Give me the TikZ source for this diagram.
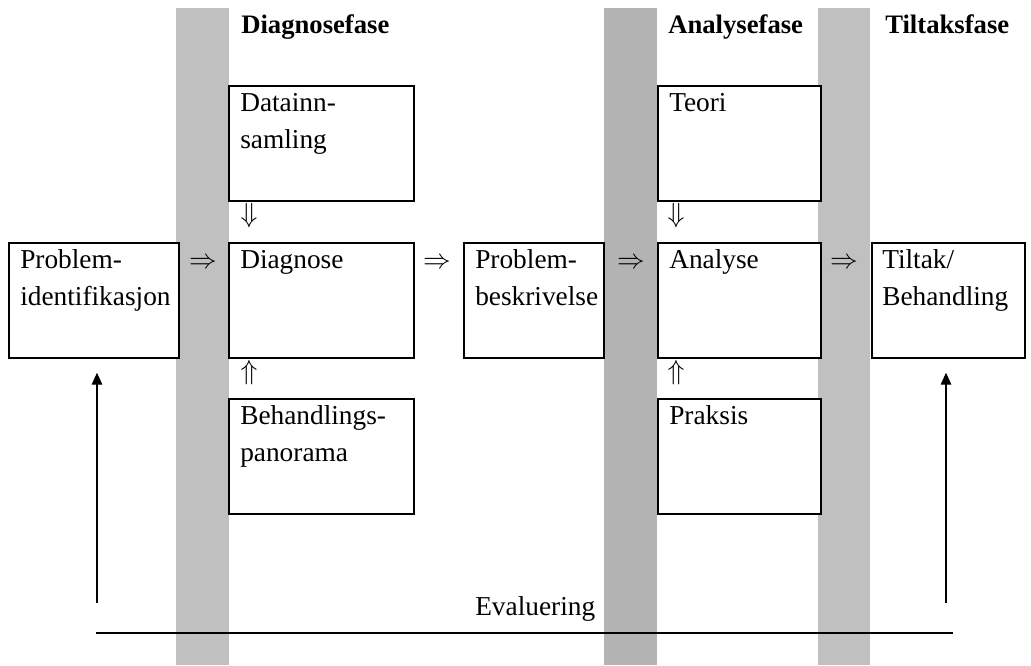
\documentclass[tikz,border=0pt]{standalone}
\usepackage{fontspec}
\setmainfont{Liberation Serif}
\usepackage{tikz}
\usetikzlibrary{arrows.meta}

\definecolor{fasegray}{RGB}{192,192,192}
\definecolor{fasedark}{RGB}{179,179,179}

\begin{document}
\begin{tikzpicture}[
  x=0.75pt, y=-0.75pt,
  bar/.style={fill=#1, draw=none},
  box/.style 2 args={rectangle, draw, line width=1.3pt, fill=white, anchor=north west,
                     inner sep=0pt, minimum width=#1*0.75pt, minimum height=#2*0.75pt},
  txt/.style={anchor=base west, inner sep=0pt, align=left,
              font=\fontsize{20.5}{27.6}\selectfont},
  head/.style={txt, font=\fontsize{20}{24}\selectfont\bfseries},
  sym/.style={inner sep=0pt, font=\fontsize{22}{26}\selectfont},
  evalarrow/.style={-{Triangle[width=8pt,length=9pt]}, line width=0.8pt}
]
  \useasboundingbox (0,0) rectangle (1031,665);

  % faser
  \fill[bar=fasegray] (176,8) rectangle (229,665);
  \fill[bar=fasedark] (604,8) rectangle (657,665);
  \fill[bar=fasegray] (818,8) rectangle (870,665);

  \node[head] (hdiag) at (241,33) {Diagnosefase};
  \node[head] (hana)  at (668,33) {Analysefase};
  \node[head] (htilt) at (885,33) {Tiltaksfase};

  % bokser
  \node[box={170}{115}] (pid)   at (8,242)   {};
  \node[box={185}{115}] (dat)   at (228,85)  {};
  \node[box={185}{115}] (diag)  at (228,242) {};
  \node[box={185}{115}] (beh)   at (228,398) {};
  \node[box={140}{115}] (pbes)  at (463,242) {};
  \node[box={163}{115}] (teori) at (657,85)  {};
  \node[box={163}{115}] (ana)   at (657,242) {};
  \node[box={163}{115}] (praks) at (657,398) {};
  \node[box={153}{115}] (tilt)  at (871,242) {};

  % base = siste linje
  \node[txt] (pidT)   at (20,305)  {Problem-\\identifikasjon};
  \node[txt] (datT)   at (240,148) {Datainn-\\samling};
  \node[txt] (diagT)  at (240,268) {Diagnose};
  \node[txt] (behT)   at (240,461) {Behandlings-\\panorama};
  \node[txt] (pbesT)  at (475,305) {Problem-\\beskrivelse};
  \node[txt] (teoriT) at (669,111) {Teori};
  \node[txt] (anaT)   at (669,268) {Analyse};
  \node[txt] (praksT) at (669,424) {Praksis};
  \node[txt] (tiltT)  at (882,305) {Tiltak/\\Behandling};

  % piler mellom boksene
  \node[sym] (r1) at (203,263) {$\Rightarrow$};
  \node[sym] (r2) at (437,263) {$\Rightarrow$};
  \node[sym] (r3) at (631,263) {$\Rightarrow$};
  \node[sym] (r4) at (844,263) {$\Rightarrow$};
  \node[sym] (d1) at (249,216) {$\Downarrow$};
  \node[sym] (d2) at (676,216) {$\Downarrow$};
  \node[sym] (u1) at (249,373) {$\Uparrow$};
  \node[sym] (u2) at (676,373) {$\Uparrow$};

  % evaluering
  \coordinate (evalL) at (97,603);
  \coordinate (evalR) at (946,603);
  \coordinate (lineL) at (96,633);
  \coordinate (lineR) at (953,633);
  \draw[line width=1.2pt] (lineL) -- (lineR);
  \node[txt] (evalT) at (475,615) {Evaluering};
  \draw[evalarrow, shorten >=10.5pt] (evalL) -- (evalL |- pid.south);
  \draw[evalarrow, shorten >=10.5pt] (evalR) -- (evalR |- tilt.south);
\end{tikzpicture}
\end{document}
